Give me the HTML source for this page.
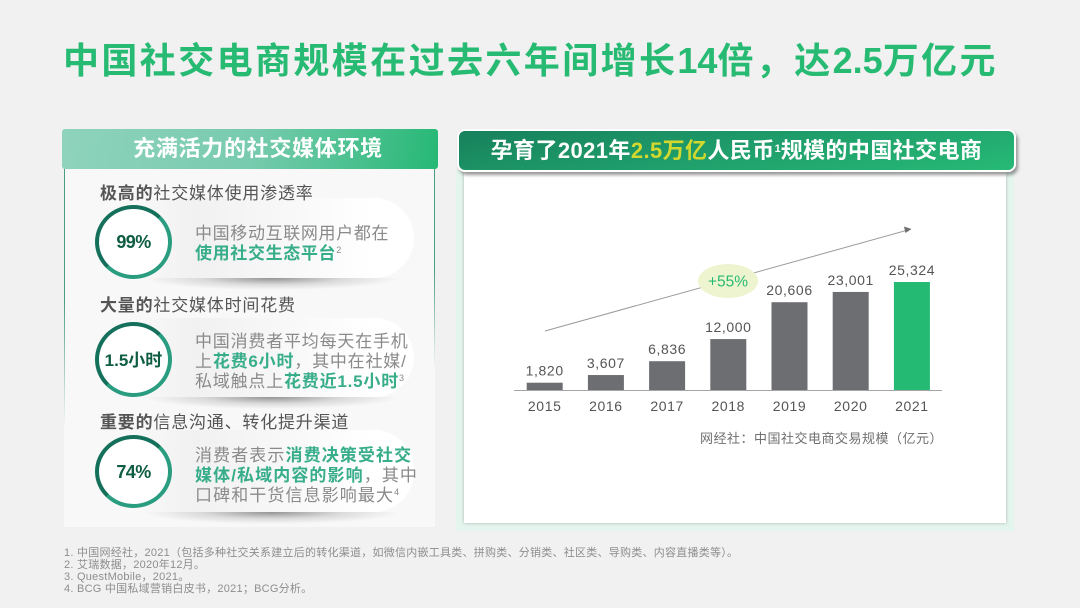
<!DOCTYPE html>
<html lang="zh">
<head>
<meta charset="utf-8">
<style>
html,body{margin:0;padding:0;}
body{width:1080px;height:608px;overflow:hidden;background:#f1f1f1;position:relative;font-family:"Liberation Sans","Noto Sans CJK SC",sans-serif;}
.a{position:absolute;white-space:nowrap;}
.g{color:#37ad8a;font-weight:700;}
.bubble{position:absolute;left:140px;width:274px;border-radius:0 40px 40px 0;background:linear-gradient(90deg,rgba(248,248,248,0) 0%,#f1f1f1 20%,#f8f8f8 55%,#fff 85%);}
.shadow{position:absolute;left:143px;width:257px;height:12px;background:radial-gradient(ellipse 50% 100% at 50% 0,rgba(80,80,80,.6) 0%,rgba(130,130,130,.25) 55%,rgba(170,170,170,0) 100%);}
.circle{position:absolute;left:95px;width:69px;border-radius:50%;border:4px solid #2a9d80;border-left-color:#14705a;border-top-color:#14705a;background:#fff;color:#0e5c43;font-weight:700;text-align:center;font-size:18px;letter-spacing:-.6px;}
.h{position:absolute;z-index:2;left:100px;font-size:17px;line-height:22px;letter-spacing:.8px;color:#555;font-weight:400;white-space:nowrap;}
.h b{font-weight:700;}
.t{position:absolute;left:195px;font-size:17px;line-height:20px;letter-spacing:.65px;color:#8a8a8a;white-space:nowrap;}
sup{font-size:9px;line-height:0;vertical-align:6px;letter-spacing:0;font-weight:400;}
</style>
</head>
<body>
<div class="a" style="left:63px;top:39px;font-size:36px;line-height:44px;font-weight:700;color:#27ba73;letter-spacing:2.4px;">中国社交电商规模在过去六年间增长<span style="letter-spacing:0;">14</span>倍，达<span style="letter-spacing:0;">2.5</span>万亿元</div>

<div class="a" style="left:64px;top:169px;width:371px;height:358px;background:#f8f8f8;"></div>
<div class="a" style="left:64px;top:169px;width:1px;height:260px;background:linear-gradient(180deg,#4a9d80 0%,#4a9d80 50%,rgba(74,157,128,0) 100%);"></div>
<div class="a" style="left:434px;top:169px;width:1px;height:200px;background:linear-gradient(180deg,#4a9d80 0%,#4a9d80 50%,rgba(74,157,128,0) 100%);"></div>
<div class="a" style="left:62px;top:129px;width:376px;height:40px;box-sizing:border-box;border-radius:3px;background:linear-gradient(100deg,#8fd3bc 0%,#78cbaf 50%,#26b875 100%);color:#fff;font-size:22px;line-height:40px;font-weight:700;text-align:center;letter-spacing:.7px;padding-left:16px;">充满活力的社交媒体环境</div>

<div class="h" style="top:183px;"><b>极高的</b>社交媒体使用渗透率</div>
<div class="bubble" style="top:198px;height:80px;"></div>
<div class="shadow" style="top:278px;"></div>
<div class="circle" style="top:205px;height:66px;line-height:67px;">99%</div>
<div class="t" style="top:224px;">中国移动互联网用户都在<br><span class="g">使用社交生态平台</span><sup>2</sup></div>

<div class="h" style="top:295px;"><b>大量的</b>社交媒体时间花费</div>
<div class="bubble" style="top:318px;height:79px;"></div>
<div class="shadow" style="top:397px;"></div>
<div class="circle" style="top:322px;height:67px;line-height:70px;font-size:17px;letter-spacing:0;">1.5小时</div>
<div class="t" style="top:332px;letter-spacing:.8px;">中国消费者平均每天在手机<br>上<span class="g">花费6小时</span>，其中在社媒/<br>私域触点上<span class="g">花费近1.5小时</span><sup>3</sup></div>

<div class="h" style="top:412px;"><b>重要的</b>信息沟通、转化提升渠道</div>
<div class="bubble" style="top:430px;height:82px;"></div>
<div class="shadow" style="top:512px;"></div>
<div class="circle" style="top:435px;height:65px;line-height:67px;">74%</div>
<div class="t" style="top:446px;letter-spacing:1.1px;">消费者表示<span class="g">消费决策受社交</span><br><span class="g">媒体/私域内容的影响</span>，其中<br>口碑和干货信息影响最大<sup>4</sup></div>

<div class="a" style="left:456px;top:170px;width:558px;height:361px;background:#e4f5ee;"></div>
<div class="a" style="left:464px;top:172px;width:542px;height:351px;background:#fff;box-shadow:0 0 3px rgba(120,120,120,.5);"></div>
<div class="a" style="left:457px;top:129px;width:559px;height:43px;box-sizing:border-box;border:2px solid #fff;border-radius:8px;background:linear-gradient(170deg,#17805c 0%,#1f9e6b 50%,#27ba76 100%);box-shadow:2px 3px 3px rgba(110,110,110,.7);color:#fff;font-size:22px;line-height:39px;font-weight:700;text-align:center;letter-spacing:.4px;">孕育了2021年<span style="color:#d3d82f;">2.5万亿</span>人民币<sup style="font-size:11px;vertical-align:6px;font-weight:700;">1</sup>规模的中国社交电商</div>

<svg id="chart" class="a" style="left:0;top:0;" width="1080" height="608" xmlns="http://www.w3.org/2000/svg"></svg>

<div class="a" style="left:700px;top:431px;font-size:13px;line-height:16px;color:#6f6f6f;letter-spacing:.5px;">网经社：中国社交电商交易规模（亿元）</div>

<div class="a" style="left:64px;top:547px;font-size:11px;line-height:12px;color:#8e8e8e;letter-spacing:.25px;">
1. 中国网经社，2021（包括多种社交关系建立后的转化渠道，如微信内嵌工具类、拼购类、分销类、社区类、导购类、内容直播类等）。<br>
2. 艾瑞数据，2020年12月。<br>
3. QuestMobile，2021。<br>
4. BCG 中国私域营销白皮书，2021；BCG分析。
</div>

<script>
const categories = ['2015','2016','2017','2018','2019','2020','2021'];
const seriesValues = [1820,3607,6836,12000,20606,23001,25324];
const valueLabels = ['1,820','3,607','6,836','12,000','20,606','23,001','25,324'];
const highlightCategory = '2021';
const growthLabel = '+55%';

const svgNS = 'http://www.w3.org/2000/svg';
const svg = document.getElementById('chart');
const FONT = '"Liberation Sans","Noto Sans CJK SC",sans-serif';
const baseY = 390.5;
const xFirst = 544.7;
const xStep = 61.2;
const pxPerUnit = 108.5 / 25324;
const barW = 36;
function xScale(i){ return xFirst + i * xStep; }
function yScale(v){ return baseY - v * pxPerUnit; }
function make(tag, attrs){
  const el = document.createElementNS(svgNS, tag);
  for (const k in attrs) el.setAttribute(k, attrs[k]);
  return el;
}

const trend = make('line', {x1:545, y1:331, x2:908, y2:230, stroke:'#9a9a9a', 'stroke-width':1});


svg.appendChild(trend);

const head = make('polygon', {points:'911.5,229 904,226.5 905.5,233', fill:'#6f6f6f'});


svg.appendChild(head);

const pill = make('ellipse', {cx:728, cy:281, rx:30, ry:17, fill:'#eef4cf'});


svg.appendChild(pill);

const pillText = make('text', {x:728, y:286.5, 'text-anchor':'middle', 'font-size':15.5, fill:'#27ba73', 'font-family':FONT});
pillText.textContent = growthLabel;


svg.appendChild(pillText);

categories.forEach((c, i) => {
  const v = seriesValues[i];
  const bar = make('rect', {x:xScale(i) - barW/2, y:yScale(v), width:barW, height:baseY - yScale(v), fill: c === highlightCategory ? '#25ba73' : '#6d6e72'});
  
  
  svg.appendChild(bar);

  const val = make('text', {x:xScale(i), y:yScale(v) - 7, 'text-anchor':'middle', 'font-size':14, fill:'#555', 'font-family':FONT, 'letter-spacing':'.6'});
  val.textContent = valueLabels[i];
  
  
  svg.appendChild(val);

  const tick = make('text', {x:xScale(i), y:411, 'text-anchor':'middle', 'font-size':14, fill:'#555', 'font-family':FONT, 'letter-spacing':'.6'});
  tick.textContent = c;
  
  
  svg.appendChild(tick);
});

const axis = make('line', {x1:514, y1:390.5, x2:942, y2:390.5, stroke:'#a5a5a5', 'stroke-width':1});


svg.appendChild(axis);
</script>
</body>
</html>
